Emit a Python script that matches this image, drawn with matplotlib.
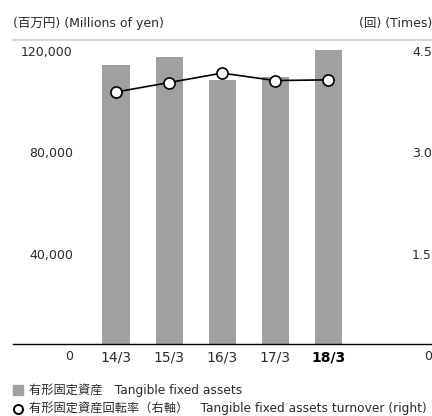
import matplotlib.pyplot as plt
from matplotlib.transforms import offset_copy
import numpy as np

plt.rcParams["font.family"] = ["DejaVu Sans", "Noto Sans CJK JP"]

YEARS = ["14/3", "15/3", "16/3", "17/3", "18/3"]
ASSETS = [110100, 113400, 104200, 105500, 116100]   # millions of yen
TURNOVER = [3.73, 3.87, 4.01, 3.90, 3.91]            # times
LEFT_TICKS = [0, 40000, 80000, 120000]
RIGHT_TICKS = [0, 1.5, 3.0, 4.5]

TXT = "#2a2a2a"
BAR = "#a0a0a0"

fig = plt.figure(figsize=(4.32, 4.16), dpi=100)
ax = fig.add_axes([13 / 432, 1 - 344 / 416, 1 - 13 / 432, (344 - 40) / 416])
ax2 = ax.twinx()

x = np.arange(len(YEARS))
ax.bar(x, ASSETS, width=0.51, color=BAR, zorder=2)
ax2.plot(x, TURNOVER, color="black", lw=1.2, marker="o", ms=8,
         mfc="white", mec="black", mew=1.2, zorder=3)

ax.set_xlim(-1.943, 5.96)
ax.set_ylim(0, 120000)
ax2.set_ylim(0, 4.5)

for a in (ax, ax2):
    a.set_yticks([])
    a.set_xticks([])
    for s in a.spines.values():
        s.set_visible(False)

ax.axhline(120000, color="#d9d9d9", lw=1.5, zorder=1, clip_on=False)
ax.axhline(0, color="black", lw=1.0, zorder=4, clip_on=False)

# y labels sit just under their value, inside the plot area
ly = offset_copy(ax.get_yaxis_transform(), fig, y=-12.5, units="dots")
for v in LEFT_TICKS:
    ax.text(0.143, v, f"{v:,}", transform=ly, ha="right", va="center",
            fontsize=9, color=TXT)
ry = offset_copy(ax2.get_yaxis_transform(), fig, y=-12.5, units="dots")
for v in RIGHT_TICKS:
    lab = "0" if v == 0 else f"{v:.1f}"
    ax2.text(1.0, v, lab, transform=ry, ha="right", va="center",
             fontsize=9, color=TXT)

xt = offset_copy(ax.get_xaxis_transform(), fig, y=-13.5, units="dots")
for i, yr in enumerate(YEARS):
    last = i == len(YEARS) - 1
    ax.text(x[i], 0, yr, transform=xt, ha="center", va="center",
            fontsize=10, color="black" if last else TXT,
            fontweight="bold" if last else "normal")

fig.text(13 / 432, 1 - 23 / 416, "(百万円) (Millions of yen)", ha="left",
         va="center", fontsize=9, color=TXT)
fig.text(1.0, 1 - 23 / 416, "(回) (Times)", ha="right", va="center",
         fontsize=9, color=TXT)

# legend
fig.patches.append(plt.Rectangle((13 / 432, 1 - 395 / 416), 10 / 432, 10 / 416,
                                 transform=fig.transFigure, color=BAR))
fig.text(29 / 432, 1 - 390 / 416, "有形固定資産　Tangible fixed assets",
         ha="left", va="center", fontsize=8.8, color=TXT)
fig.add_artist(plt.Line2D([17.5 / 432], [1 - 408.5 / 416], marker="o", ms=6.5,
                          mfc="white", mec="black", mew=1.4,
                          transform=fig.transFigure))
fig.text(29 / 432, 1 - 408.5 / 416,
         "有形固定資産回転率（右軸）　Tangible fixed assets turnover (right)",
         ha="left", va="center", fontsize=8.8, color=TXT)

fig.savefig("out.png", dpi=100)
